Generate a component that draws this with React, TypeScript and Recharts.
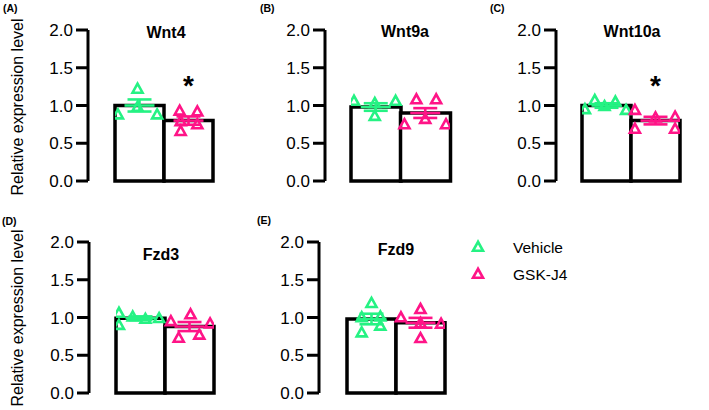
import React from 'react';
import { ComposedChart, Bar, Scatter, XAxis, YAxis, ErrorBar } from 'recharts';

// ---------- data ----------
const categories = ['Vehicle', 'GSK-J4'];
const genes = ['Wnt4', 'Wnt9a', 'Wnt10a', 'Fzd3', 'Fzd9'];
const panelLetters = ['(A)', '(B)', '(C)', '(D)', '(E)'];
const yTicks = [0, 0.5, 1.0, 1.5, 2.0];

// bar means [Vehicle, GSK-J4]
const wnt4Means = [1.0, 0.8];
const wnt9aMeans = [0.98, 0.9];
const wnt10aMeans = [1.0, 0.8];
const fzd3Means = [0.99, 0.88];
const fzd9Means = [0.98, 0.93];

// SEM [Vehicle, GSK-J4]
const wnt4Sem = [0.08, 0.055];
const wnt9aSem = [0.05, 0.065];
const wnt10aSem = [0.03, 0.05];
const fzd3Sem = [0.025, 0.06];
const fzd9Sem = [0.07, 0.065];

// individual points
const wnt4Vehicle = [0.88, 1.22, 0.98, 0.88];
const wnt4Gsk = [0.93, 0.92, 0.79, 0.75, 0.66];
const wnt9aVehicle = [1.06, 1.03, 0.86, 1.06];
const wnt9aGsk = [1.08, 1.08, 0.82, 0.75, 0.75];
const wnt10aVehicle = [0.95, 1.07, 0.99, 1.05, 0.94];
const wnt10aGsk = [0.94, 0.69, 0.84, 0.85, 0.69];
const fzd3Vehicle = [1.06, 0.9, 1.01, 0.98, 0.99];
const fzd3Gsk = [0.95, 1.04, 0.73, 0.77, 0.92];
const fzd9Vehicle = [1.19, 1.0, 1.01, 0.8, 0.89];
const fzd9Gsk = [1.0, 1.11, 0.925, 0.915, 0.725];

// horizontal scatter of points within a column (fraction of column width)
const wnt4VehicleJit = [-0.44, -0.04, -0.04, 0.36];
const wnt4GskJit = [-0.18, 0.18, -0.16, 0.18, -0.16];
const wnt9aVehicleJit = [-0.44, -0.02, -0.02, 0.4];
const wnt9aGskJit = [-0.18, 0.22, 0, -0.42, 0.42];
const wnt10aVehicleJit = [-0.44, -0.24, -0.04, 0.18, 0.4];
const wnt10aGskJit = [-0.42, -0.42, 0, 0.4, 0.4];
const fzd3VehicleJit = [-0.44, -0.44, -0.16, 0.1, 0.38];
const fzd3GskJit = [-0.38, 0.02, -0.22, 0.2, 0.42];
const fzd9VehicleJit = [0, -0.2, 0.18, -0.2, 0.18];
const fzd9GskJit = [-0.4, 0, 0, 0.42, 0];

// significance marker (GSK-J4 vs Vehicle)
const significant = [true, false, true, false, false];
const starLevel = 1.3;

const geneData = [
  { means: wnt4Means, sem: wnt4Sem, pts: [wnt4Vehicle, wnt4Gsk], jit: [wnt4VehicleJit, wnt4GskJit] },
  { means: wnt9aMeans, sem: wnt9aSem, pts: [wnt9aVehicle, wnt9aGsk], jit: [wnt9aVehicleJit, wnt9aGskJit] },
  { means: wnt10aMeans, sem: wnt10aSem, pts: [wnt10aVehicle, wnt10aGsk], jit: [wnt10aVehicleJit, wnt10aGskJit] },
  { means: fzd3Means, sem: fzd3Sem, pts: [fzd3Vehicle, fzd3Gsk], jit: [fzd3VehicleJit, fzd3GskJit] },
  { means: fzd9Means, sem: fzd9Sem, pts: [fzd9Vehicle, fzd9Gsk], jit: [fzd9VehicleJit, fzd9GskJit] },
];

// ---------- layout / style ----------
const COLORS = ['#25F283', '#FF1487'];
const FONT = 'Liberation Sans, Arial, Helvetica, sans-serif';

const layout = [
  { left: 0, top: 0, width: 245, right: 5, padL: 27, padR: 27, title: [166, 32], letter: [3, 12] },
  { left: 237, top: 0, width: 238, right: 0, padL: 26, padR: 25, title: [405, 31], letter: [260, 12] },
  { left: 468, top: 0, width: 241, right: 1, padL: 26, padR: 28, title: [632, 31], letter: [490, 12] },
  { left: 1, top: 212, width: 240, right: 0, padL: 27, padR: 27, title: [161, 254], letter: [2, 225] },
  { left: 231, top: 212, width: 239, right: 0, padL: 28, padR: 25, title: [396, 249], letter: [257, 224] },
];

const Tri = (props: any) => {
  const { cx, cy, color } = props;
  if (cx == null || cy == null) return null;
  return (
    <path
      d={`M${cx},${cy - 5.2} L${cx - 5},${cy + 3.8} L${cx + 5},${cy + 3.8} Z`}
      fill="none"
      stroke={color}
      strokeWidth={2.6}
    />
  );
};

const MeanLine = (props: any) => {
  const { cx, cy, color } = props;
  if (cx == null || cy == null) return null;
  return <line x1={cx - 15} x2={cx + 15} y1={cy} y2={cy} stroke={color} strokeWidth={2.6} />;
};

const Star = (props: any) => {
  const { cx, cy } = props;
  if (cx == null || cy == null) return null;
  return (
    <text x={cx} y={cy + 12} textAnchor="middle" fontFamily={FONT} fontWeight="bold" fontSize={28} fill="#000">
      *
    </text>
  );
};

function Panel({ idx }: { idx: number }) {
  const cfg = layout[idx];
  const g = geneData[idx];
  const barData = categories.map((c, i) => ({ name: c, mean: g.means[i] }));
  return (
    <div style={{ position: 'absolute', left: cfg.left, top: cfg.top }}>
      <ComposedChart
        width={cfg.width}
        height={200}
        data={barData}
        barCategoryGap={0}
        barGap={0}
        margin={{ top: 30, right: cfg.right, left: 0, bottom: 19 }}
      >
        <XAxis
          xAxisId="cat"
          dataKey="name"
          type="category"
          axisLine={{ stroke: '#000', strokeWidth: 3 }}
          tick={false}
          tickLine={false}
          height={0}
          padding={{ left: cfg.padL, right: cfg.padR }}
        />
        <XAxis
          xAxisId="num"
          type="number"
          dataKey="x"
          domain={[0, 2]}
          allowDataOverflow
          hide
          padding={{ left: cfg.padL, right: cfg.padR }}
        />
        <YAxis
          yAxisId="y"
          type="number"
          domain={[0, 2]}
          ticks={yTicks}
          interval={0}
          width={88}
          tickFormatter={(v: number) => v.toFixed(1)}
          axisLine={{ stroke: '#000', strokeWidth: 3 }}
          tickLine={{ stroke: '#000', strokeWidth: 3 }}
          tickSize={12}
          tickMargin={3}
          tick={{ fill: '#000', fontSize: 17, fontFamily: FONT }}
        />
        <Bar
          xAxisId="cat"
          yAxisId="y"
          dataKey="mean"
          fill="#fff"
          stroke="#000"
          strokeWidth={3.5}
          isAnimationActive={false}
        />
        {categories.map((c, i) => (
          <Scatter
            key={`pts-${c}`}
            xAxisId="num"
            yAxisId="y"
            dataKey="y"
            data={g.pts[i].map((v, k) => ({ x: i + 0.5 + g.jit[i][k], y: v }))}
            shape={(p: any) => <Tri {...p} color={COLORS[i]} />}
            isAnimationActive={false}
          />
        ))}
        {categories.map((c, i) => (
          <Scatter
            key={`err-${c}`}
            xAxisId="num"
            yAxisId="y"
            dataKey="y"
            data={[{ x: i + 0.5, y: g.means[i], e: g.sem[i] }]}
            shape={(p: any) => <MeanLine {...p} color={COLORS[i]} />}
            isAnimationActive={false}
          >
            <ErrorBar dataKey="e" direction="y" width={12} stroke={COLORS[i]} strokeWidth={2.6} isAnimationActive={false} />
          </Scatter>
        ))}
        {significant[idx] && (
          <Scatter
            xAxisId="num"
            yAxisId="y"
            dataKey="y"
            data={[{ x: 1.5, y: starLevel }]}
            shape={(p: any) => <Star {...p} />}
            isAnimationActive={false}
          />
        )}
      </ComposedChart>
    </div>
  );
}

export default function App() {
  return (
    <div style={{ position: 'fixed', left: 0, top: 0, width: 709, height: 410, background: '#fff', overflow: 'hidden' }}>
      {genes.map((g, i) => (
        <Panel key={g} idx={i} />
      ))}
      <svg width={709} height={410} style={{ position: 'absolute', left: 0, top: 0, pointerEvents: 'none' }}>
        {genes.map((g, i) => (
          <g key={g}>
            <text x={layout[i].title[0]} y={layout[i].title[1]} textAnchor="middle" dominantBaseline="central" fontFamily={FONT} fontWeight="bold" fontSize={16} fill="#000">
              {g}
            </text>
            <text x={layout[i].letter[0]} y={layout[i].letter[1]} fontFamily={FONT} fontWeight="bold" fontSize={10.5} fill="#000">
              {panelLetters[i]}
            </text>
          </g>
        ))}
        <text transform="translate(17,107) rotate(-90)" textAnchor="middle" dominantBaseline="central" fontFamily={FONT} fontSize={16} fill="#000">
          Relative expression level
        </text>
        <text transform="translate(17,318) rotate(-90)" textAnchor="middle" dominantBaseline="central" fontFamily={FONT} fontSize={16} fill="#000">
          Relative expression level
        </text>
        {categories.map((c, i) => (
          <g key={c}>
            <Tri cx={478} cy={247 + i * 27} color={COLORS[i]} />
            <text x={513} y={247 + i * 27} dominantBaseline="central" fontFamily={FONT} fontSize={15.5} fill="#000">
              {c}
            </text>
          </g>
        ))}
      </svg>
    </div>
  );
}
